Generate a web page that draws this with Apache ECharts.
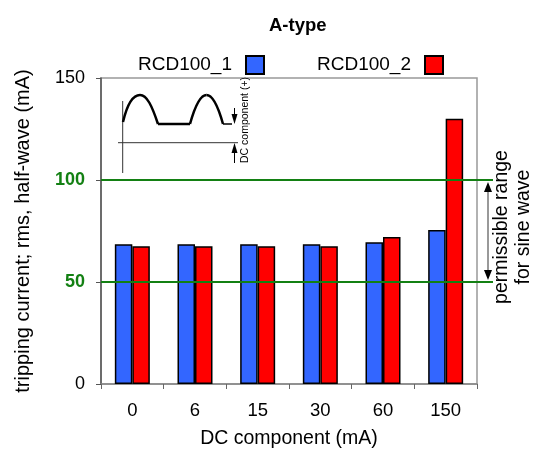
<!DOCTYPE html>
<html>
<head>
<meta charset="utf-8">
<script src="https://cdn.jsdelivr.net/npm/echarts@6/dist/echarts.min.js"></script>
<style>html,body{margin:0;padding:0;background:#fff}#c{width:539px;height:454px}</style>
</head>
<body>
<div id="c"></div>
<script>
const categories = ['0', '6', '15', '30', '60', '150'];
const rcd1 = [68.5, 68.5, 68.5, 68.5, 69.5, 75.5];
const rcd2 = [67.5, 67.5, 67.5, 67.5, 72, 130];
const yTicks = [0, 50, 100, 150];
const limits = [50, 100];
const FONT = 'Liberation Sans, Arial, sans-serif';

const legendText = {fontSize: 19, color: '#000', fontFamily: FONT, padding: [0, 9, 0, 0]};
const chart = echarts.init(document.getElementById('c'), null, {renderer: 'canvas'});
chart.setOption({
  animation: false,
  textStyle: {fontFamily: FONT},
  title: {
    text: 'A-type', left: 264, top: 11,
    textStyle: {fontSize: 18.5, fontWeight: 'bold', color: '#000', fontFamily: FONT}
  },
  legend: [
    {data: ['RCD100_1'], left: 133, top: 50, align: 'right', icon: 'rect',
      itemWidth: 18, itemHeight: 18, textStyle: legendText},
    {data: ['RCD100_2'], left: 312, top: 50, align: 'right', icon: 'rect',
      itemWidth: 18, itemHeight: 18, textStyle: legendText}
  ],
  grid: {left: 101, right: 62, top: 78, bottom: 70, show: true, borderColor: '#999', borderWidth: 1.5},
  xAxis: {
    type: 'category', data: categories,
    name: 'DC component (mA)', nameLocation: 'middle', nameGap: 45,
    nameTextStyle: {fontSize: 19.5, color: '#000', fontFamily: FONT},
    axisLine: {lineStyle: {color: '#888', width: 1.5}},
    axisTick: {show: true, length: 5, lineStyle: {color: '#666'}},
    axisLabel: {fontSize: 18.5, color: '#000', margin: 17, fontFamily: FONT}
  },
  yAxis: {
    type: 'value', min: 0, max: 150, interval: 50,
    name: 'tripping current; rms, half-wave (mA)', nameLocation: 'middle', nameGap: 68,
    nameTextStyle: {fontSize: 20, color: '#000', fontFamily: FONT},
    axisLine: {show: true, lineStyle: {color: '#555', width: 1.5}},
    axisTick: {show: true, length: 5, lineStyle: {color: '#555'}},
    splitLine: {show: false},
    axisLabel: {
      margin: 16, fontFamily: FONT,
      formatter: v => limits.includes(v) ? '{g|' + v + '}' : '{k|' + v + '}',
      rich: {
        g: {fontSize: 18, fontWeight: 'bold', color: '#138013', fontFamily: FONT},
        k: {fontSize: 18, color: '#000', fontFamily: FONT}
      }
    }
  },
  series: [
    {
      name: 'RCD100_1', type: 'bar', data: rcd1, barWidth: 17.5, barGap: '0%',
      itemStyle: {color: '#3366ff', borderColor: '#000', borderWidth: 1.5},
      markLine: {
        silent: true, symbol: 'none', label: {show: false},
        lineStyle: {color: '#138013', width: 2, type: 'solid'},
        data: limits.map(v => ({yAxis: v}))
      }
    },
    {
      name: 'RCD100_2', type: 'bar', data: rcd2, barWidth: 17.5,
      itemStyle: {color: '#ff0000', borderColor: '#000', borderWidth: 1.5}
    }
  ]
});

const y100 = chart.convertToPixel({yAxisIndex: 0}, 100);
const y50 = chart.convertToPixel({yAxisIndex: 0}, 50);
const xr = 539 - 62;
const ax = 488;
const wave = {stroke: '#000', lineWidth: 2.5, fill: null};
chart.setOption({
  graphic: [
    {type: 'line', shape: {x1: xr, y1: y100, x2: 493, y2: y100}, style: {stroke: '#138013', lineWidth: 2}},
    {type: 'line', shape: {x1: xr, y1: y50, x2: 493, y2: y50}, style: {stroke: '#138013', lineWidth: 2}},
    {type: 'line', shape: {x1: ax, y1: y100 + 6, x2: ax, y2: y50 - 6}, style: {stroke: '#777', lineWidth: 1.5}},
    {type: 'polygon', shape: {points: [[ax, y100 + 2], [ax - 4, y100 + 12], [ax + 4, y100 + 12]]}, style: {fill: '#000'}},
    {type: 'polygon', shape: {points: [[ax, y50 - 2], [ax - 4, y50 - 12], [ax + 4, y50 - 12]]}, style: {fill: '#000'}},
    {type: 'text', x: 513, y: (y100 + y50) / 2 - 4, rotation: Math.PI / 2,
      style: {text: 'permissible range\nfor sine wave', fontSize: 19.5, fontFamily: FONT, fill: '#000',
        align: 'center', verticalAlign: 'middle', lineHeight: 22}},
    // inset waveform sketch
    {type: 'line', shape: {x1: 122.7, y1: 101, x2: 122.7, y2: 173}, style: {stroke: '#333', lineWidth: 1}},
    {type: 'line', shape: {x1: 118, y1: 142.7, x2: 238, y2: 142.7}, style: {stroke: '#333', lineWidth: 1}},
    {type: 'bezierCurve', shape: {x1: 123, y1: 122, cpx1: 127, cpy1: 105, cpx2: 133, cpy2: 95, x2: 140, y2: 95}, style: wave},
    {type: 'bezierCurve', shape: {x1: 140, y1: 95, cpx1: 147, cpy1: 95, cpx2: 152, cpy2: 106, x2: 158, y2: 124}, style: wave},
    {type: 'line', shape: {x1: 158, y1: 124, x2: 190, y2: 124}, style: wave},
    {type: 'bezierCurve', shape: {x1: 190, y1: 124, cpx1: 195, cpy1: 106, cpx2: 200, cpy2: 95, x2: 206.5, y2: 95}, style: wave},
    {type: 'bezierCurve', shape: {x1: 206.5, y1: 95, cpx1: 213, cpy1: 95, cpx2: 218, cpy2: 106, x2: 223, y2: 124}, style: wave},
    {type: 'line', shape: {x1: 223, y1: 124, x2: 232, y2: 124}, style: {stroke: '#000', lineWidth: 1.5}},
    {type: 'line', shape: {x1: 234.5, y1: 108, x2: 234.5, y2: 114}, style: {stroke: '#000', lineWidth: 1}},
    {type: 'polygon', shape: {points: [[234.5, 124], [231.5, 114], [237.5, 114]]}, style: {fill: '#000'}},
    {type: 'polygon', shape: {points: [[234.5, 143], [231.5, 153], [237.5, 153]]}, style: {fill: '#000'}},
    {type: 'line', shape: {x1: 234.5, y1: 153, x2: 234.5, y2: 163}, style: {stroke: '#000', lineWidth: 1}},
    {type: 'text', x: 245, y: 120, rotation: Math.PI / 2,
      style: {text: 'DC component (+)', fontSize: 10.5, fontFamily: FONT, fill: '#000', align: 'center', verticalAlign: 'middle'}}
  ]
});
</script>
</body>
</html>
